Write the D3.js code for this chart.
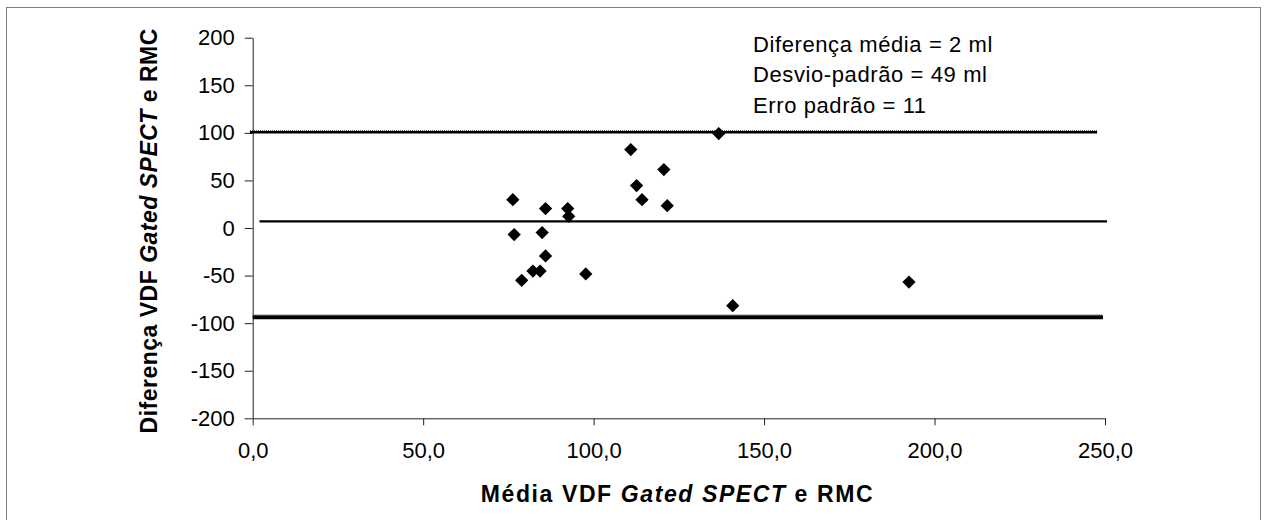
<!DOCTYPE html>
<html>
<head>
<meta charset="utf-8">
<script src="https://cdn.jsdelivr.net/npm/d3@7"></script>
<style>
  body { margin: 0; background: #fff; }
  svg { display: block; font-family: Arial, "Liberation Sans", sans-serif; }
</style>
</head>
<body>
<div id="chart"></div>
<script>
// media VDF (x) e diferenca VDF (y) de cada paciente
const mediaVDF = [136.7, 110.9, 120.6, 112.6, 114.2, 121.6, 76.3, 85.9, 92.4, 92.7,
                  76.7, 84.9, 85.9, 82.2, 84.3, 78.9, 97.7, 140.8, 192.5];
const diferencaVDF = [99.2, 82.4, 61.4, 44.6, 29.8, 23.5, 29.8, 20.4, 20.4, 12.3,
                      -6.9, -4.8, -29.4, -45.2, -45.2, -55, -48.3, -81.6, -56.8];

// linhas de referencia: limite superior, media, limite inferior
const lineNames = ['upper', 'mean', 'lower'];
const lineY = [100.6, 7.0, -93.9];
const lineX0 = [-0.8, 2, 0];
const lineX1 = [247.7, 250.6, 249.4];

const xTicks = [0, 50, 100, 150, 200, 250];
const yTicks = [200, 150, 100, 50, 0, -50, -100, -150, -200];
const statsText = ['Diferença média = 2 ml', 'Desvio-padrão = 49 ml', 'Erro padrão = 11'];

const width = 1267, height = 520;
const svg = d3.select('#chart').append('svg')
    .attr('width', width)
    .attr('height', height);

// moldura
svg.append('rect')
    .attr('x', 6.5).attr('y', 7.5)
    .attr('width', 1254).attr('height', 530)
    .attr('fill', 'none')
    .attr('stroke', '#808080');

const x = d3.scaleLinear().domain([0, 250]).range([252.7, 1105]);
const y = d3.scaleLinear().domain([-200, 200]).range([418.3, 37.7]);
const fmt = d => d3.format('.1f')(d).replace('.', ',');

// eixo y (hifen simples no sinal negativo, como no original)
const yAxis = svg.append('g')
    .attr('transform', `translate(${x(0)},0)`)
    .call(d3.axisLeft(y).tickValues(yTicks).tickFormat(d => String(d))
        .tickSize(8).tickPadding(10).tickSizeOuter(0));
yAxis.selectAll('text').attr('font-size', 22).attr('fill', '#000').attr('font-family', 'Arial, "Liberation Sans", sans-serif');
yAxis.selectAll('line, path').attr('stroke', '#222');

// eixo x
const xAxis = svg.append('g')
    .attr('transform', `translate(0,${y(-200)})`)
    .call(d3.axisBottom(x).tickValues(xTicks).tickFormat(fmt).tickSize(7).tickPadding(17).tickSizeOuter(0));
xAxis.selectAll('text').attr('font-size', 22).attr('fill', '#000').attr('font-family', 'Arial, "Liberation Sans", sans-serif');
xAxis.selectAll('line, path').attr('stroke', '#222');

// linhas de referencia
const lineWidths = { upper: 2.5, mean: 2.2, lower: 4 };
lineNames.forEach((name, i) => {
    const g = svg.append('g');
    const yy = y(lineY[i]);
    g.append('line')
        .attr('x1', x(lineX0[i])).attr('x2', x(lineX1[i]))
        .attr('y1', yy).attr('y2', yy)
        .attr('stroke', '#000')
        .attr('stroke-width', lineWidths[name]);
    if (name !== 'mean') {
        // borda pontilhada por cima, como no original
        g.append('line')
            .attr('x1', x(lineX0[i])).attr('x2', x(lineX1[i]))
            .attr('y1', yy - lineWidths[name] / 2 - 0.5).attr('y2', yy - lineWidths[name] / 2 - 0.5)
            .attr('stroke', '#555')
            .attr('stroke-width', 1)
            .attr('stroke-dasharray', '1,1');
    }
});

// pontos
const diamond = d3.symbol().type(d3.symbolSquare).size(88);
svg.append('g').selectAll('path')
    .data(mediaVDF.map((m, i) => ({ m: m, d: diferencaVDF[i] })))
    .join('path')
    .attr('d', diamond)
    .attr('transform', d => `translate(${x(d.m)},${y(d.d)}) rotate(45)`)
    .attr('fill', '#000');

// caixa de estatisticas
svg.append('g').selectAll('text')
    .data(statsText)
    .join('text')
    .attr('x', 753)
    .attr('y', (d, i) => 52 + i * 30.3)
    .attr('font-size', 22)
    .attr('letter-spacing', 0.6)
    .text(d => d);

// titulo eixo x
const xt = svg.append('text')
    .attr('x', 677.5).attr('y', 501.5)
    .attr('text-anchor', 'middle')
    .attr('font-size', 23)
    .attr('font-weight', 'bold')
    .attr('letter-spacing', 1.6);
xt.append('tspan').text('Média VDF ');
xt.append('tspan').attr('font-style', 'italic').text('Gated SPECT');
xt.append('tspan').text(' e RMC');

// titulo eixo y
const yt = svg.append('text')
    .attr('transform', 'translate(156.7,230.8) rotate(-90)')
    .attr('text-anchor', 'middle')
    .attr('font-size', 23)
    .attr('font-weight', 'bold')
    .attr('letter-spacing', 0.5);
yt.append('tspan').text('Diferença VDF  ');
yt.append('tspan').attr('font-style', 'italic').text('Gated SPECT');
yt.append('tspan').text(' e RMC');
</script>
</body>
</html>
